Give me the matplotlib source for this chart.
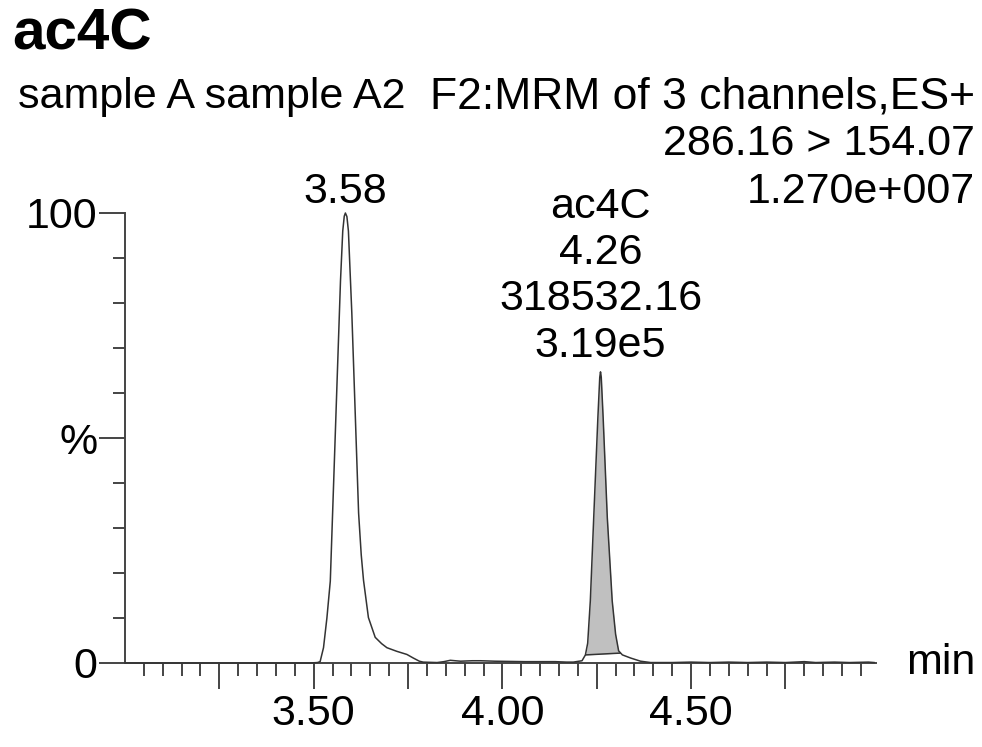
import numpy as np
import matplotlib
matplotlib.use("Agg")
import matplotlib.pyplot as plt
from matplotlib.ticker import FixedLocator, FixedFormatter

plt.rcParams["font.family"] = ["Liberation Sans", "DejaVu Sans"]

# ---------------------------------------------------------
# data
# ---------------------------------------------------------
time_min = [3.00, 3.10, 3.20, 3.30, 3.40, 3.49, 3.50, 3.51, 3.517, 3.526,
            3.535, 3.544, 3.553, 3.562, 3.571, 3.577, 3.581, 3.584, 3.588,
            3.592, 3.601, 3.610, 3.619, 3.626, 3.632, 3.645, 3.663, 3.68,
            3.694, 3.72, 3.747, 3.764, 3.78, 3.79, 3.827, 3.845, 3.862,
            3.875, 3.889, 3.92, 3.942, 3.98, 4.02, 4.06, 4.10, 4.14, 4.17,
            4.188, 4.211, 4.220, 4.226, 4.233, 4.242, 4.253, 4.258, 4.260,
            4.262, 4.267, 4.278, 4.291, 4.300, 4.308, 4.318, 4.340, 4.366,
            4.393, 4.45, 4.50, 4.55, 4.60, 4.65, 4.70, 4.75, 4.80, 4.83,
            4.88, 4.92, 4.97, 4.985]
intensity = [0, 0, 0, 0, 0, 0, 0.05, 0.1, 0.3, 3.4,
             10, 18.2, 40.4, 62.7, 84.9, 96, 99.3, 100, 99.2,
             96, 77.8, 55.6, 33.3, 24, 18.4, 10.1, 5.7, 4.3,
             3.4, 2.6, 1.9, 1.1, 0.4, 0.2, 0.1, 0.3, 0.6,
             0.5, 0.4, 0.5, 0.5, 0.4, 0.35, 0.3, 0.3, 0.3, 0.2,
             0.2, 0.5, 1.8, 4.4, 13.8, 32.3, 54.5, 63.5, 64.7,
             63.5, 54.5, 32.3, 13.8, 6.4, 2.7, 1.8, 1.1, 0.4,
             0.1, 0.1, 0.2, 0.1, 0.2, 0.1, 0.2, 0.1, 0.3, 0.1,
             0.2, 0.1, 0.2, 0.1]

# integrated peak (ac4C): start / end of the drawn baseline
integ_start = (4.221, 1.8)
integ_end = (4.312, 2.2)

peak1_rt = 3.584
peak1_label = ["3.58"]
peak2_rt = 4.260
peak2_height = 64.7
peak2_label = ["ac4C", "4.26", "318532.16", "3.19e5"]

title = "ac4C"
header_left = "sample A sample A2"
header_mid = "F2:MRM of 3 channels,ES+"
header_right = ["286.16 > 154.07", "1.270e+007"]

x_major = [3.25, 3.50, 3.75, 4.00, 4.25, 4.50, 4.75]
x_major_labels = ["", "3.50", "", "4.00", "", "4.50", ""]
x_minor = [round(3.0 + 0.05 * i, 2) for i in range(1, 40) if i % 5 != 0]
y_major = [0, 50, 100]
y_major_labels = ["0", "%", "100"]
y_minor = [10, 20, 30, 40, 60, 70, 80, 90]

# ---------------------------------------------------------
# figure
# ---------------------------------------------------------
W, H = 982, 747
fig = plt.figure(figsize=(W / 100, H / 100), dpi=100)
ax = fig.add_axes([125 / W, (H - 663) / H, (876 - 125) / W, 450 / H])

line_col = "#333333"
axis_col = "#444444"
FS = 31

t = np.array(time_min)
y = np.array(intensity)
ax.plot(t, y, color=line_col, lw=1.1, clip_on=False, zorder=3)

# shaded integration area
mask = (t > integ_start[0]) & (t < integ_end[0])
seg_t = np.concatenate([[integ_start[0]], t[mask], [integ_end[0]]])
seg_y = np.concatenate([[integ_start[1]], y[mask], [integ_end[1]]])
base_y = np.interp(seg_t, [integ_start[0], integ_end[0]],
                   [integ_start[1], integ_end[1]])
ax.fill_between(seg_t, base_y, seg_y, color="#c0c0c0", lw=0, zorder=2)
ax.plot([integ_start[0], integ_end[0]], [integ_start[1], integ_end[1]],
        color=line_col, lw=1.1, zorder=3)

ax.set_xlim(3.0, 4.99)
ax.set_ylim(0, 100)

for s in ["top", "right"]:
    ax.spines[s].set_visible(False)
for s in ["left", "bottom"]:
    ax.spines[s].set_color(axis_col)
    ax.spines[s].set_linewidth(1.4)

ax.xaxis.set_major_locator(FixedLocator(x_major))
ax.xaxis.set_major_formatter(FixedFormatter(x_major_labels))
ax.xaxis.set_minor_locator(FixedLocator(x_minor))
ax.yaxis.set_major_locator(FixedLocator(y_major))
ax.yaxis.set_major_formatter(FixedFormatter(y_major_labels))
ax.yaxis.set_minor_locator(FixedLocator(y_minor))

ax.tick_params(axis="both", which="major", direction="out", length=19,
               width=1.4, color=axis_col, labelsize=FS)
ax.tick_params(axis="both", which="minor", direction="out", length=9,
               width=1.4, color=axis_col)
ax.tick_params(axis="x", which="major", pad=3.5)
ax.tick_params(axis="y", which="major", pad=1)

ax.text(1.04, 0, "min", transform=ax.transAxes, fontsize=FS,
        ha="left", va="center")

# peak labels
ax.annotate(peak1_label[0], xy=(peak1_rt, 100), xytext=(0, 7),
            textcoords="offset points", ha="center", va="baseline",
            fontsize=FS, annotation_clip=False)
n = len(peak2_label)
for i, txt in enumerate(peak2_label):
    ax.annotate(txt, xy=(peak2_rt, peak2_height),
                xytext=(0, 11 + (n - 1 - i) * 33.2),
                textcoords="offset points", ha="center", va="baseline",
                fontsize=FS, annotation_clip=False)

# header
fig.text(12 / W, 1 - 50 / H, title, fontsize=42, fontweight="bold",
         ha="left", va="baseline")
fig.text(18 / W, 1 - 108 / H, header_left, fontsize=FS,
         ha="left", va="baseline")
fig.text(975 / W, 1 - 108 / H, header_mid, fontsize=32,
         ha="right", va="baseline")
fig.text(975 / W, 1 - 155 / H, header_right[0], fontsize=FS,
         ha="right", va="baseline")
fig.text(975 / W, 1 - 203 / H, header_right[1], fontsize=FS,
         ha="right", va="baseline")

fig.savefig("out.png", dpi=100)
